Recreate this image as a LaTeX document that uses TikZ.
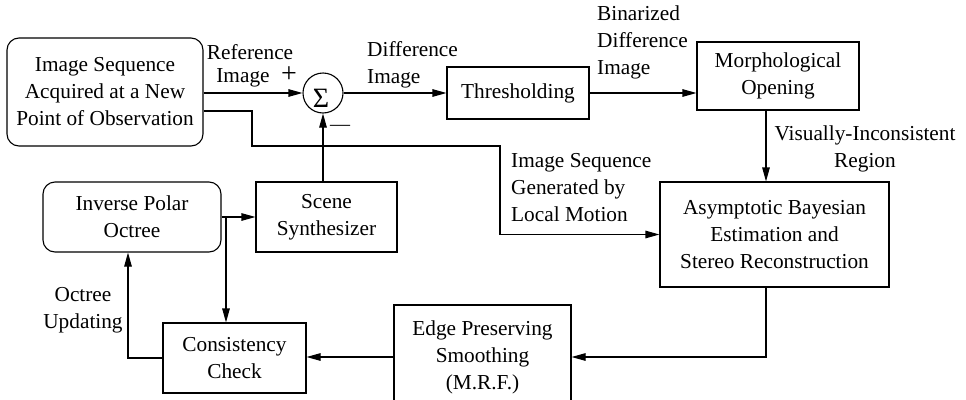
\documentclass[tikz,border=0pt]{standalone}
\usepackage{fontspec}
\setmainfont{Liberation Serif}
\usetikzlibrary{arrows.meta}
\begin{document}
\begin{tikzpicture}[x=1pt,y=-1pt,
  every node/.style={font=\fontsize{21.3}{27}\selectfont},
  box/.style={draw, line width=1.1pt, align=center, inner sep=0pt},
  rbox/.style={box, rounded corners=12pt},
  lbl/.style={inner sep=0pt},
  conn/.style={line width=1.1pt, -{Triangle[length=14pt,width=7.5pt]}}]
\clip (0,0) rectangle (966,399);
% boxes
\node[rbox, minimum width=196pt, minimum height=108pt] (A) at (105,92) {Image Sequence\\Acquired at a New\\Point of Observation};
\node[draw, circle, line width=1.1pt, minimum size=40pt, inner sep=0pt] (sum) at (323,93) {};
\node[lbl, font=\fontsize{28}{30}\selectfont] (sig) at (321,98) {Σ};
\node[box, minimum width=142pt, minimum height=52pt] (thr) at (518,93) {Thresholding};
\node[box, minimum width=162pt, minimum height=68pt] (mor) at (778,76) {Morphological\\Opening};
\node[box, minimum width=229pt, minimum height=105pt] (asy) at (774.5,234.5) {Asymptotic Bayesian\\Estimation and\\Stereo Reconstruction};
\node[box, minimum width=177pt, minimum height=104pt] (edge) at (482.5,357) {Edge Preserving\\Smoothing\\(M.R.F.)};
\node[box, minimum width=143pt, minimum height=70pt] (con) at (234.5,358) {Consistency\\Check};
\node[rbox, minimum width=178pt, minimum height=70pt] (oct) at (132,217) {Inverse Polar\\Octree};
\node[box, minimum width=141pt, minimum height=70pt] (scn) at (326.5,217) {Scene\\Synthesizer};
% labels
\node[lbl] (lref) at (250,52) {Reference};
\node[lbl] (limg) at (243,78) {Image};
\node[lbl, font=\fontsize{28}{30}\selectfont] (lplus) at (289,75) {+};
\node[lbl, font=\fontsize{20}{22}\selectfont] (lminus) at (340,128) {—};
\node[lbl, align=left, anchor=west] (ldiff) at (367,65) {Difference\\Image};
\node[lbl, align=left, anchor=west] (lbin) at (597,42) {Binarized\\Difference\\Image};
\node[lbl, align=center] (lvis) at (865,149) {Visually-Inconsistent\\Region};
\node[lbl, align=left, anchor=west] (lgen) at (511,188) {Image Sequence\\Generated by\\Local Motion};
\node[lbl, align=center] (loct) at (83,310) {Octree\\Updating};
% connectors
\coordinate (mo) at ([xshift=-12pt]mor.south);
\coordinate (k1) at (252,146);
\coordinate (k2) at (500,146);
\coordinate (br) at (226,217);
\draw[conn] (A.east |- sum.west) -- (sum.west);
\draw[conn] (sum.east) -- (thr.west);
\draw[conn] (thr.east) -- (thr.east -| mor.west);
\draw[conn] (mo) -- (mo |- asy.north);
\draw[conn] ([yshift=-19pt]A.east) -| (k1) -- (k2) |- (asy.west);
\draw[conn] (scn.north -| sum.south) -- (sum.south);
\draw[conn] (oct.east) -- (scn.west);
\draw[conn] (br) -- (br |- con.north);
\draw[conn] (asy.south -| mo) |- (edge.east);
\draw[conn] (edge.west) -- (edge.west -| con.east);
\draw[conn] (con.west) -| ([xshift=-4pt]oct.south);
\end{tikzpicture}
\end{document}
